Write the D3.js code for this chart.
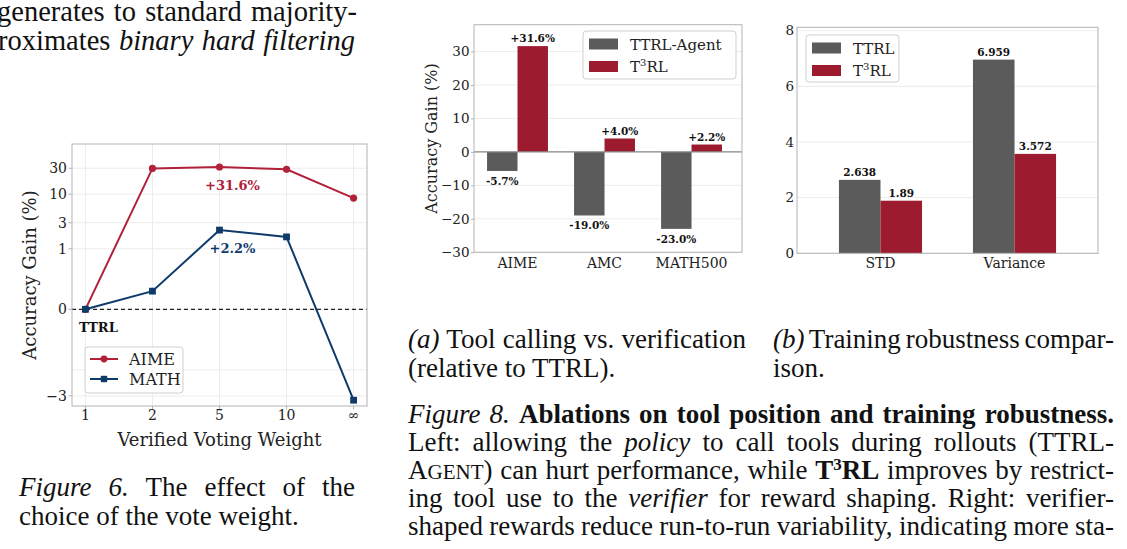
<!DOCTYPE html>
<html>
<head>
<meta charset="utf-8">
<script src="https://cdn.jsdelivr.net/npm/d3@7"></script>
<style>
  body { margin: 0; background: #fff; }
  svg text { font-family: "DejaVu Serif", serif; }
  svg text.prose { font-family: "Liberation Serif", "Times New Roman", serif; font-size: 27px; }
</style>
</head>
<body>
<svg id="fig" width="1127" height="549"></svg>
<script>
// Figure 6: verified voting weight
const weightLabels = ['1', '2', '5', '10', '\u221e']
const aimeGain = [0, 29.8, 31.6, 28.7, 8.5]
const mathGain = [0, 0.3, 2.2, 1.65, -3.6]
const gainTicks = [-3, 0, 1, 3, 10, 30]

// Figure 8a: tool calling vs verification
const benchmarks = ['AIME', 'AMC', 'MATH500']
const agentGain = [-5.7, -19.0, -23.0]
const t3rlGain = [31.6, 4.0, 2.2]
const gainTicksA = [-30, -20, -10, 0, 10, 20, 30]

// Figure 8b: training robustness
const metrics = ['STD', 'Variance']
const ttrlSpread = [2.638, 6.959]
const t3rlSpread = [1.89, 3.572]
const spreadTicks = [0, 2, 4, 6, 8]

const red = '#9c1b2f'
const gray = '#5b5b5b'
const aimeColor = '#b2213a'
const mathColor = '#0f3b6b'
const frameColor = '#b3b3b3'
const gridColor = '#ececec'

const svg = d3.select('#fig')
svg.append('rect').attr('width', 1127).attr('height', 549).attr('fill', '#fff')

const fmtPct = v => (v > 0 ? '+' : '') + v.toFixed(1) + '%'

// ---------- Figure 6 ----------
{
  const box = { l: 72, r: 367, t: 144, b: 406 }
  // matplotlib-style symlog, linthresh 1, base 10
  const lin = 1 / (1 - 1 / 10)
  const symlog = v => Math.abs(v) <= 1 ? v * lin : Math.sign(v) * (lin + Math.log10(Math.abs(v)))
  const yScale = d3.scaleLinear().domain([-1.774, 3.033]).range([box.b, box.t])
  const y = v => yScale(symlog(v))
  const x = d3.scaleLinear().domain([-0.2, 4.2]).range([box.l, box.r])

  const g = svg.append('g')

  g.selectAll('.hgrid')
    .data(gainTicks.concat([-1]))
    .enter()
    .append('line')
      .attr('x1', box.l).attr('x2', box.r)
      .attr('y1', d => y(d)).attr('y2', d => y(d))
      .attr('stroke', gridColor)

  g.selectAll('.vgrid')
    .data(weightLabels)
    .enter()
    .append('line')
      .attr('x1', (d, i) => x(i)).attr('x2', (d, i) => x(i))
      .attr('y1', box.t).attr('y2', box.b)
      .attr('stroke', gridColor)

  g.append('line')
    .attr('x1', box.l).attr('x2', box.r)
    .attr('y1', y(0)).attr('y2', y(0))
    .attr('stroke', '#222').attr('stroke-width', 1.3).attr('stroke-dasharray', '4,3')

  g.append('rect')
    .attr('x', box.l).attr('y', box.t)
    .attr('width', box.r - box.l).attr('height', box.b - box.t)
    .attr('fill', 'none').attr('stroke', frameColor)

  // y ticks
  g.selectAll('.ytick')
    .data(gainTicks)
    .enter()
    .append('line')
      .attr('x1', box.l - 3.5).attr('x2', box.l)
      .attr('y1', d => y(d)).attr('y2', d => y(d))
      .attr('stroke', frameColor)
  g.selectAll('.ylab')
    .data(gainTicks)
    .enter()
    .append('text')
      .attr('x', box.l - 5)
      .attr('y', d => y(d))
      .attr('dy', '0.35em')
      .attr('text-anchor', 'end')
      .attr('font-size', 14)
      .attr('fill', '#222')
      .text(d => d < 0 ? '\u2212' + Math.abs(d) : d)

  // x ticks
  g.selectAll('.xtick')
    .data(weightLabels)
    .enter()
    .append('line')
      .attr('x1', (d, i) => x(i)).attr('x2', (d, i) => x(i))
      .attr('y1', box.b).attr('y2', box.b + 3.5)
      .attr('stroke', frameColor)
  g.selectAll('.xlab')
    .data(weightLabels)
    .enter()
    .append('text')
      .attr('x', (d, i) => x(i))
      .attr('y', 420)
      .attr('text-anchor', 'middle')
      .attr('font-size', 14)
      .attr('fill', '#222')
      .text(d => d)

  const line = d3.line().x((d, i) => x(i)).y(d => y(d))

  g.append('path').datum(aimeGain)
    .attr('d', line).attr('fill', 'none')
    .attr('stroke', aimeColor).attr('stroke-width', 2)
  g.selectAll('.aimeDot')
    .data(aimeGain)
    .enter()
    .append('circle')
      .attr('cx', (d, i) => x(i)).attr('cy', d => y(d))
      .attr('r', 3.6).attr('fill', aimeColor)

  g.append('path').datum(mathGain)
    .attr('d', line).attr('fill', 'none')
    .attr('stroke', mathColor).attr('stroke-width', 2)
  g.selectAll('.mathDot')
    .data(mathGain)
    .enter()
    .append('rect')
      .attr('x', (d, i) => x(i) - 3.4).attr('y', d => y(d) - 3.4)
      .attr('width', 6.8).attr('height', 6.8).attr('fill', mathColor)

  g.append('text')
    .attr('x', x(2) + 13).attr('y', y(31.6) + 23)
    .attr('text-anchor', 'middle').attr('font-size', 13).attr('font-weight', 'bold')
    .attr('fill', aimeColor).text(fmtPct(aimeGain[2]))
  g.append('text')
    .attr('x', x(2) + 13).attr('y', y(2.2) + 23)
    .attr('text-anchor', 'middle').attr('font-size', 13).attr('font-weight', 'bold')
    .attr('fill', mathColor).text(fmtPct(mathGain[2]))
  g.append('text')
    .attr('x', x(0) + 13).attr('y', y(0) + 23)
    .attr('text-anchor', 'middle').attr('font-size', 13).attr('font-weight', 'bold')
    .attr('fill', '#111').text('TTRL')

  // legend
  const lg = g.append('g').attr('transform', 'translate(85, 347)')
  lg.append('rect')
    .attr('width', 98).attr('height', 46).attr('rx', 3)
    .attr('fill', '#fff').attr('fill-opacity', 0.85).attr('stroke', '#cfcfcf')
  const items = [['AIME', aimeColor, 'circle'], ['MATH', mathColor, 'square']]
  items.forEach((it, i) => {
    const cy = 12 + i * 20
    lg.append('line').attr('x1', 5).attr('x2', 33).attr('y1', cy).attr('y2', cy)
      .attr('stroke', it[1]).attr('stroke-width', 2)
    if (it[2] === 'circle') {
      lg.append('circle').attr('cx', 19).attr('cy', cy).attr('r', 3.4).attr('fill', it[1])
    } else {
      lg.append('rect').attr('x', 15.8).attr('y', cy - 3.2).attr('width', 6.4).attr('height', 6.4).attr('fill', it[1])
    }
    lg.append('text').attr('x', 44).attr('y', cy).attr('dy', '0.36em')
      .attr('font-size', 16).attr('fill', '#222').text(it[0])
  })

  g.append('text')
    .attr('transform', 'translate(30,' + ((box.t + box.b) / 2) + ') rotate(-90)')
    .attr('text-anchor', 'middle').attr('dy', '0.35em')
    .attr('font-size', 18).attr('fill', '#222')
    .text('Accuracy Gain (%)')
  g.append('text')
    .attr('x', (box.l + box.r) / 2).attr('y', 440).attr('dy', '0.35em')
    .attr('text-anchor', 'middle').attr('font-size', 18).attr('fill', '#222')
    .text('Verified Voting Weight')
}

// legend helper for the bar charts
function barLegend(parent, x0, y0, w, h, entries) {
  const lg = parent.append('g').attr('transform', 'translate(' + x0 + ',' + y0 + ')')
  lg.append('rect')
    .attr('width', w).attr('height', h).attr('rx', 3)
    .attr('fill', '#fff').attr('fill-opacity', 0.85).attr('stroke', '#cfcfcf')
  entries.forEach((e, i) => {
    const cy = 13 + i * 22.5
    lg.append('rect').attr('x', 6).attr('y', cy - 5.5).attr('width', 29).attr('height', 11).attr('fill', e[1])
    const t = lg.append('text').attr('x', 47).attr('y', cy + 5.5).attr('font-size', 15).attr('fill', '#222')
    if (e[0] === 'T3RL') {
      t.append('tspan').text('T')
      t.append('tspan').attr('dy', -6).attr('font-size', 10).text('3')
      t.append('tspan').attr('dy', 6).text('RL')
    } else {
      t.text(e[0])
    }
  })
}

// ---------- Figure 8a ----------
{
  const box = { l: 474, r: 742, t: 24.7, b: 252.3 }
  const x = d3.scaleLinear().domain([-0.5, 2.58]).range([box.l, box.r])
  const y = d3.scaleLinear().domain([-30, 38]).range([box.b, box.t])
  const bw = 0.35
  const g = svg.append('g')

  g.selectAll('.grid')
    .data(gainTicksA)
    .enter()
    .append('line')
      .attr('x1', box.l).attr('x2', box.r)
      .attr('y1', d => y(d)).attr('y2', d => y(d))
      .attr('stroke', gridColor)

  g.selectAll('.agent')
    .data(agentGain)
    .enter()
    .append('rect')
      .attr('x', (d, i) => x(i - bw))
      .attr('y', d => y(Math.max(0, d)))
      .attr('width', x(bw) - x(0))
      .attr('height', d => Math.abs(y(d) - y(0)))
      .attr('fill', gray)

  g.selectAll('.t3rl')
    .data(t3rlGain)
    .enter()
    .append('rect')
      .attr('x', (d, i) => x(i))
      .attr('y', d => y(Math.max(0, d)))
      .attr('width', x(bw) - x(0))
      .attr('height', d => Math.abs(y(d) - y(0)))
      .attr('fill', red)

  g.append('line')
    .attr('x1', box.l).attr('x2', box.r)
    .attr('y1', y(0)).attr('y2', y(0))
    .attr('stroke', '#8a8a8a').attr('stroke-width', 1.2)

  const labels = agentGain.map((d, i) => ({ v: d, c: i - bw / 2 }))
    .concat(t3rlGain.map((d, i) => ({ v: d, c: i + bw / 2 })))
  g.selectAll('.vlab')
    .data(labels)
    .enter()
    .append('text')
      .attr('x', d => x(d.c))
      .attr('y', d => d.v >= 0 ? y(d.v) - 4 : y(d.v) + 14)
      .attr('text-anchor', 'middle')
      .attr('font-size', 10.5).attr('font-weight', 'bold').attr('fill', '#111')
      .text(d => d.v > 0 ? fmtPct(d.v) : d.v.toFixed(1) + '%')

  g.append('rect')
    .attr('x', box.l).attr('y', box.t)
    .attr('width', box.r - box.l).attr('height', box.b - box.t)
    .attr('fill', 'none').attr('stroke', frameColor)

  const yAxis = d3.axisLeft(y).tickValues(gainTicksA).tickSize(3)
    .tickFormat(d => d < 0 ? '\u2212' + Math.abs(d) : d)
  const ya = g.append('g').attr('transform', 'translate(' + box.l + ',0)').call(yAxis)
  ya.select('.domain').remove()
  ya.selectAll('line').attr('stroke', frameColor)
  ya.selectAll('text').attr('font-size', 13.5).attr('fill', '#222').attr('x', -4.5)
    .attr('font-family', '"DejaVu Serif", serif')

  g.selectAll('.xlab')
    .data(benchmarks)
    .enter()
    .append('text')
      .attr('x', (d, i) => x(i))
      .attr('y', 263.5).attr('dy', '0.35em')
      .attr('text-anchor', 'middle')
      .attr('font-size', 14).attr('fill', '#222')
      .text(d => d)

  g.append('text')
    .attr('transform', 'translate(431,' + ((box.t + box.b) / 2) + ') rotate(-90)')
    .attr('text-anchor', 'middle').attr('dy', '0.35em')
    .attr('font-size', 16).attr('fill', '#222')
    .text('Accuracy Gain (%)')

  barLegend(g, 583, 31, 153, 48, [['TTRL-Agent', gray], ['T3RL', red]])
}

// ---------- Figure 8b ----------
{
  const box = { l: 797, r: 1098, t: 27.3, b: 253.3 }
  const x = d3.scaleLinear().domain([-0.623, 1.623]).range([box.l, box.r])
  const y = d3.scaleLinear().domain([0, 8.12]).range([box.b, box.t])
  const bw = 0.31
  const g = svg.append('g')

  g.selectAll('.grid')
    .data(spreadTicks)
    .enter()
    .append('line')
      .attr('x1', box.l).attr('x2', box.r)
      .attr('y1', d => y(d)).attr('y2', d => y(d))
      .attr('stroke', gridColor)

  g.selectAll('.ttrl')
    .data(ttrlSpread)
    .enter()
    .append('rect')
      .attr('x', (d, i) => x(i - bw))
      .attr('y', d => y(d))
      .attr('width', x(bw) - x(0))
      .attr('height', d => y(0) - y(d))
      .attr('fill', gray)

  g.selectAll('.t3rl')
    .data(t3rlSpread)
    .enter()
    .append('rect')
      .attr('x', (d, i) => x(i))
      .attr('y', d => y(d))
      .attr('width', x(bw) - x(0))
      .attr('height', d => y(0) - y(d))
      .attr('fill', red)

  const labels = ttrlSpread.map((d, i) => ({ v: d, c: i - bw / 2 }))
    .concat(t3rlSpread.map((d, i) => ({ v: d, c: i + bw / 2 })))
  g.selectAll('.vlab')
    .data(labels)
    .enter()
    .append('text')
      .attr('x', d => x(d.c))
      .attr('y', d => y(d.v) - 4)
      .attr('text-anchor', 'middle')
      .attr('font-size', 10.5).attr('font-weight', 'bold').attr('fill', '#111')
      .text(d => String(d.v))

  g.append('rect')
    .attr('x', box.l).attr('y', box.t)
    .attr('width', box.r - box.l).attr('height', box.b - box.t)
    .attr('fill', 'none').attr('stroke', frameColor)

  g.selectAll('.ylab')
    .data(spreadTicks)
    .enter()
    .append('text')
      .attr('x', box.l - 3)
      .attr('y', d => y(d)).attr('dy', '0.35em')
      .attr('text-anchor', 'end')
      .attr('font-size', 13.5).attr('fill', '#222')
      .text(d => d)

  g.selectAll('.xlab')
    .data(metrics)
    .enter()
    .append('text')
      .attr('x', (d, i) => x(i))
      .attr('y', 263.5).attr('dy', '0.35em')
      .attr('text-anchor', 'middle')
      .attr('font-size', 14).attr('fill', '#222')
      .text(d => d)

  barLegend(g, 806, 35, 93, 47, [['TTRL', gray], ['T3RL', red]])
}

// ---------- surrounding paper text ----------
function proseLine(x, y, parts, opts) {
  opts = opts || {}
  const t = svg.append('text').attr('class', 'prose').attr('x', x).attr('y', y).attr('fill', '#111')
  if (opts.size) t.style('font-size', opts.size + 'px')
  parts.forEach(p => {
    const s = t.append('tspan').text(p[0])
    const st = p[1] || ''
    if (st.includes('i')) s.attr('font-style', 'italic')
    if (st.includes('b')) s.attr('font-weight', 'bold')
    if (st.includes('s')) s.attr('font-size', 21)
    if (st.includes('^')) s.attr('font-size', 17).attr('dy', -9)
    if (st.includes('v')) s.attr('dy', 9)
  })
  // justify: widen the word gaps so the line fills the column
  if (opts.len) {
    const natural = t.node().getComputedTextLength()
    const gaps = (t.text().match(/ /g) || []).length
    if (gaps > 0) t.style('word-spacing', ((opts.len - natural) / gaps) + 'px')
  }
  return t
}

proseLine(-3, 21, [['generates to standard majority-']], { len: 360, size: 28.5 })
proseLine(-2, 50, [['roximates '], ['binary hard filtering', 'i']], { len: 357, size: 28.5 })

proseLine(19, 496, [['Figure 6.', 'i'], [' The effect of the']], { len: 336 })
proseLine(19, 525, [['choice of the vote weight.']])

proseLine(408, 348, [['(a)', 'i'], [' Tool calling vs. verification']], { len: 338 })
proseLine(408, 377, [['(relative to TTRL).']])
proseLine(773, 348, [['(b)', 'i'], [' Training robustness compar-']], { len: 341 })
proseLine(773, 377, [['ison.']])

proseLine(408, 423, [['Figure 8.', 'i'], [' '], ['Ablations on tool position and training robustness.', 'b']], { len: 706 })
proseLine(408, 451, [['Left: allowing the '], ['policy', 'i'], [' to call tools during rollouts (TTRL-']], { len: 706 })
proseLine(408, 479, [['A'], ['GENT', 's'], [') can hurt performance, while '], ['T', 'b'], ['3', 'b^'], ['RL', 'bv'], [' improves by restrict-']], { len: 706 })
proseLine(408, 507, [['ing tool use to the '], ['verifier', 'i'], [' for reward shaping. Right: verifier-']], { len: 706 })
proseLine(408, 535, [['shaped rewards reduce run-to-run variability, indicating more sta-']], { len: 706 })
</script>
</body>
</html>
